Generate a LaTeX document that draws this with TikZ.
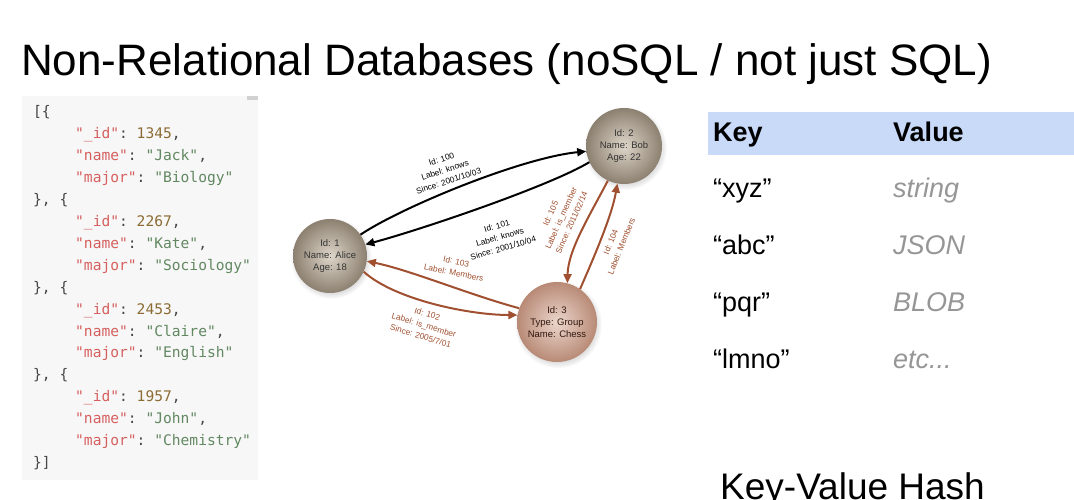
\documentclass[tikz,border=0pt]{standalone}
\usepackage{fontspec}
\setmainfont{Liberation Sans}
\setmonofont{DejaVu Sans Mono}
\usetikzlibrary{arrows.meta,shadows}

\definecolor{jsonbg}{RGB}{247,247,247}
\definecolor{jkey}{RGB}{214,96,96}
\definecolor{jnum}{RGB}{140,108,52}
\definecolor{jstr}{RGB}{98,136,98}
\definecolor{jpun}{RGB}{70,70,70}
\definecolor{relbrown}{RGB}{160,80,48}
\definecolor{hdrblue}{RGB}{201,218,248}
\definecolor{valgray}{RGB}{150,150,150}
\definecolor{personin}{RGB}{222,214,202}
\definecolor{personout}{RGB}{140,128,112}
\definecolor{groupin}{RGB}{236,214,204}
\definecolor{groupout}{RGB}{184,138,118}

% JSON syntax colouring
\newcommand{\jk}[1]{\textcolor{jkey}{"#1"}}
\newcommand{\jn}[1]{\textcolor{jnum}{#1}}
\newcommand{\js}[1]{\textcolor{jstr}{"#1"}}

\tikzset{
  jline/.style={anchor=base west, inner sep=0, text=jpun,
                font=\ttfamily\fontsize{14.6}{16}\selectfont},
  person/.style={circle, minimum size=#1, inner sep=0, align=center,
                 shading=radial, inner color=personin, outer color=personout,
                 circular drop shadow={shadow xshift=1pt, shadow yshift=-2pt, opacity=0.25},
                 font=\fontsize{9.5}{12}\selectfont, text=black!80},
  group/.style={person=#1, inner color=groupin, outer color=groupout, text=black!70!relbrown},
  rel/.style={line width=2pt, -{Triangle[length=9pt,width=8pt]}},
  brownrel/.style={rel, draw=relbrown},
  elabel/.style={align=center, inner sep=0, font=\fontsize{8.3}{11.5}\selectfont},
  kvhead/.style={anchor=base west, inner sep=0, font=\bfseries\fontsize{27}{32}\selectfont},
  kvkey/.style={anchor=base west, inner sep=0, font=\fontsize{27}{32}\selectfont},
  kvval/.style={anchor=base west, inner sep=0, text=valgray, font=\itshape\fontsize{27}{32}\selectfont}
}

\begin{document}
\begin{tikzpicture}[x=1pt, y=-1pt]
\useasboundingbox (0,0) rectangle (1074,500);
\fill[white] (0,0) rectangle (1074,500);

% heading
\node[anchor=base west, inner sep=0, font=\fontsize{44}{50}\selectfont] (title) at (21,76)
  {Non-Relational Databases (noSQL / not just SQL)};

% document store panel
\fill[jsonbg] (22,96) rectangle (258,480);
\fill[black!18] (247,96) rectangle (258,100);
\node[jline] (j0)  at (33,117.0) {[\{};
\node[jline] (j1)  at (75,138.9) {\jk{\_id}: \jn{1345},};
\node[jline] (j2)  at (75,160.8) {\jk{name}: \js{Jack},};
\node[jline] (j3)  at (75,182.7) {\jk{major}: \js{Biology}};
\node[jline] (j4)  at (33,204.6) {\}, \{};
\node[jline] (j5)  at (75,226.5) {\jk{\_id}: \jn{2267},};
\node[jline] (j6)  at (75,248.4) {\jk{name}: \js{Kate},};
\node[jline] (j7)  at (75,270.3) {\jk{major}: \js{Sociology}};
\node[jline] (j8)  at (33,292.2) {\}, \{};
\node[jline] (j9)  at (75,314.1) {\jk{\_id}: \jn{2453},};
\node[jline] (j10) at (75,336.0) {\jk{name}: \js{Claire},};
\node[jline] (j11) at (75,357.9) {\jk{major}: \js{English}};
\node[jline] (j12) at (33,379.8) {\}, \{};
\node[jline] (j13) at (75,401.7) {\jk{\_id}: \jn{1957},};
\node[jline] (j14) at (75,423.6) {\jk{name}: \js{John},};
\node[jline] (j15) at (75,445.5) {\jk{major}: \js{Chemistry}};
\node[jline] (j16) at (33,467.4) {\}]};

% graph store
\node[person=74pt] (alice) at (330,256) {Id: 1\\Name: Alice\\Age: 18};
\node[person=76pt] (bob)   at (624,146) {Id: 2\\Name: Bob\\Age: 22};
\node[group=80pt]  (chess) at (557,322) {Id: 3\\Type: Group\\Name: Chess};

\draw[rel] (alice.35) .. controls (400,208) and (520,158) .. (bob.188);
\draw[rel] (bob.205) .. controls (550,186) and (420,230) .. (alice.18);
\draw[brownrel] (chess.160) .. controls (470,295) and (410,270) .. (alice.-8);
\draw[brownrel] (alice.-25) .. controls (395,300) and (470,315) .. (chess.170);
\draw[brownrel] (bob.-115) .. controls (590,215) and (568,250) .. (chess.75);
\draw[brownrel] (chess.55) .. controls (595,255) and (612,215) .. (bob.-100);

\node[elabel, rotate=18] (l100) at (445,170) {Id: 100\\Label: knows\\Since: 2001/10/03};
\node[elabel, rotate=16] (l101) at (500,237) {Id: 101\\Label: knows\\Since: 2001/10/04};
\node[elabel, rotate=-12, text=relbrown] (l103) at (455,267) {Id: 103\\Label: Members};
\node[elabel, rotate=-17, text=relbrown] (l102) at (424,325) {Id: 102\\Label: is\_member\\Since: 2005/7/01};
\node[elabel, rotate=66, text=relbrown] (l105) at (561,218) {Id: 105\\Label: is\_member\\Since: 2011/02/14};
\node[elabel, rotate=68, text=relbrown] (l104) at (616,244) {Id: 104\\Label: Members};

% key-value store
\fill[hdrblue] (708,112) rectangle (1074,155);
\node[kvhead] (khead) at (713,142) {Key};
\node[kvhead] (vhead) at (893,142) {Value};
\node[kvkey] (k1) at (713,197) {“xyz”};
\node[kvval] (v1) at (893,197) {string};
\node[kvkey] (k2) at (713,254) {“abc”};
\node[kvval] (v2) at (893,254) {JSON};
\node[kvkey] (k3) at (713,311) {“pqr”};
\node[kvval] (v3) at (893,311) {BLOB};
\node[kvkey] (k4) at (713,368) {“lmno”};
\node[kvval] (v4) at (893,368) {etc...};

\node[anchor=base west, inner sep=0, font=\fontsize{37}{42}\selectfont] (kvtitle) at (720,499.5) {Key-Value Hash};
\end{tikzpicture}
\end{document}
